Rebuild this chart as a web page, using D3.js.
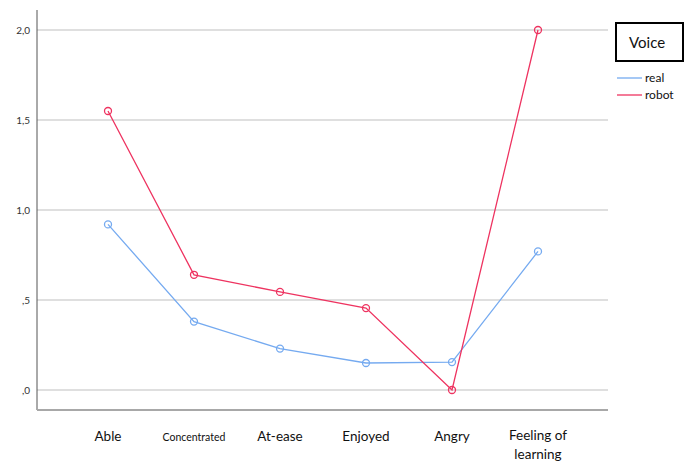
<!DOCTYPE html>
<html>
<head>
<meta charset="utf-8">
<script src="https://cdn.jsdelivr.net/npm/d3@7"></script>
<style>
body { margin: 0; background: #fff; }
text { font-family: Lato, "Open Sans", sans-serif; }
</style>
</head>
<body>
<svg width="686" height="463"></svg>
<script>
var categories = ['Able', 'Concentrated', 'At-ease', 'Enjoyed', 'Angry', 'Feeling of learning'];
var realValues = [0.92, 0.38, 0.23, 0.15, 0.155, 0.77];
var robotValues = [1.55, 0.64, 0.545, 0.455, 0.0, 2.0];
var yTicks = [0, 0.5, 1.0, 1.5, 2.0];
var yTickLabels = [',0', ',5', '1,0', '1,5', '2,0'];

var svg = d3.select('svg');

// plot area (window.top is read-only, so own names)
var plotLeft = 37, plotRight = 608, plotTop = 10, plotBottom = 410;

var x = d3.scalePoint()
	.domain(categories)
	.range([108, 538]);

var y = d3.scaleLinear()
	.domain([-0.111, 2.111])
	.range([plotBottom, plotTop]);

// grid lines
svg.append('g')
	.selectAll('line')
	.data(yTicks)
	.enter()
	.append('line')
	.attr('x1', plotLeft)
	.attr('x2', plotRight)
	.attr('y1', function(d) { return y(d); })
	.attr('y2', function(d) { return y(d); })
	.attr('stroke', '#d4d4d4')
	.attr('stroke-width', 1.5);

// y axis labels
svg.append('g')
	.selectAll('text')
	.data(yTicks)
	.enter()
	.append('text')
	.attr('x', 30)
	.attr('y', function(d) { return y(d) + 4; })
	.attr('text-anchor', 'end')
	.attr('font-size', 10)
	.attr('fill', '#333')
	.text(function(d, i) { return yTickLabels[i]; });

// axis lines
svg.append('line')
	.attr('x1', plotLeft).attr('x2', plotLeft)
	.attr('y1', plotTop).attr('y2', plotBottom)
	.attr('stroke', '#555').attr('stroke-width', 1);
svg.append('line')
	.attr('x1', plotLeft).attr('x2', plotRight)
	.attr('y1', plotBottom).attr('y2', plotBottom)
	.attr('stroke', '#a8a8a8').attr('stroke-width', 2);

// x labels
var xl = svg.append('g')
	.selectAll('text')
	.data(categories)
	.enter()
	.append('text')
	.attr('x', function(d) { return x(d); })
	.attr('y', 441)
	.attr('text-anchor', 'middle')
	.attr('font-size', function(d) { return d === 'Concentrated' ? 10.5 : 13.5; })
	.attr('fill', '#111');
xl.each(function(d) {
	var t = d3.select(this);
	if (d === 'Feeling of learning') {
		t.append('tspan').attr('x', x(d)).attr('dy', -1).text('Feeling of');
		t.append('tspan').attr('x', x(d)).attr('dy', 19).text('learning');
	} else {
		t.text(d);
	}
});

var series = [
	{ name: 'real', values: realValues, color: '#75aaf0' },
	{ name: 'robot', values: robotValues, color: '#ee3360' }
];

var line = d3.line()
	.x(function(d, i) { return x(categories[i]); })
	.y(function(d) { return y(d); });

series.forEach(function(s) {
	svg.append('path')
		.datum(s.values)
		.attr('d', line)
		.attr('fill', 'none')
		.attr('stroke', s.color)
		.attr('stroke-width', 1.3);
	svg.append('g')
		.selectAll('circle')
		.data(s.values)
		.enter()
		.append('circle')
		.attr('cx', function(d, i) { return x(categories[i]); })
		.attr('cy', function(d) { return y(d); })
		.attr('r', 3.5)
		.attr('fill', 'none')
		.attr('stroke', s.color)
		.attr('stroke-width', 1.3);
});

// legend
svg.append('rect')
	.attr('x', 616).attr('y', 23)
	.attr('width', 67).attr('height', 38)
	.attr('fill', '#fff')
	.attr('stroke', '#000')
	.attr('stroke-width', 2);
svg.append('text')
	.attr('x', 629).attr('y', 48)
	.attr('font-size', 15)
	.attr('fill', '#111')
	.text('Voice');

var lg = svg.append('g')
	.selectAll('g')
	.data(series)
	.enter()
	.append('g')
	.attr('transform', function(d, i) { return 'translate(617,' + (78 + i * 17) + ')'; });
lg.append('line')
	.attr('x1', 0).attr('x2', 25)
	.attr('stroke', function(d) { return d.color; })
	.attr('stroke-width', 1.3);
lg.append('text')
	.attr('x', 28).attr('y', 4)
	.attr('font-size', 12)
	.attr('fill', '#111')
	.text(function(d) { return d.name; });
</script>
</body>
</html>
